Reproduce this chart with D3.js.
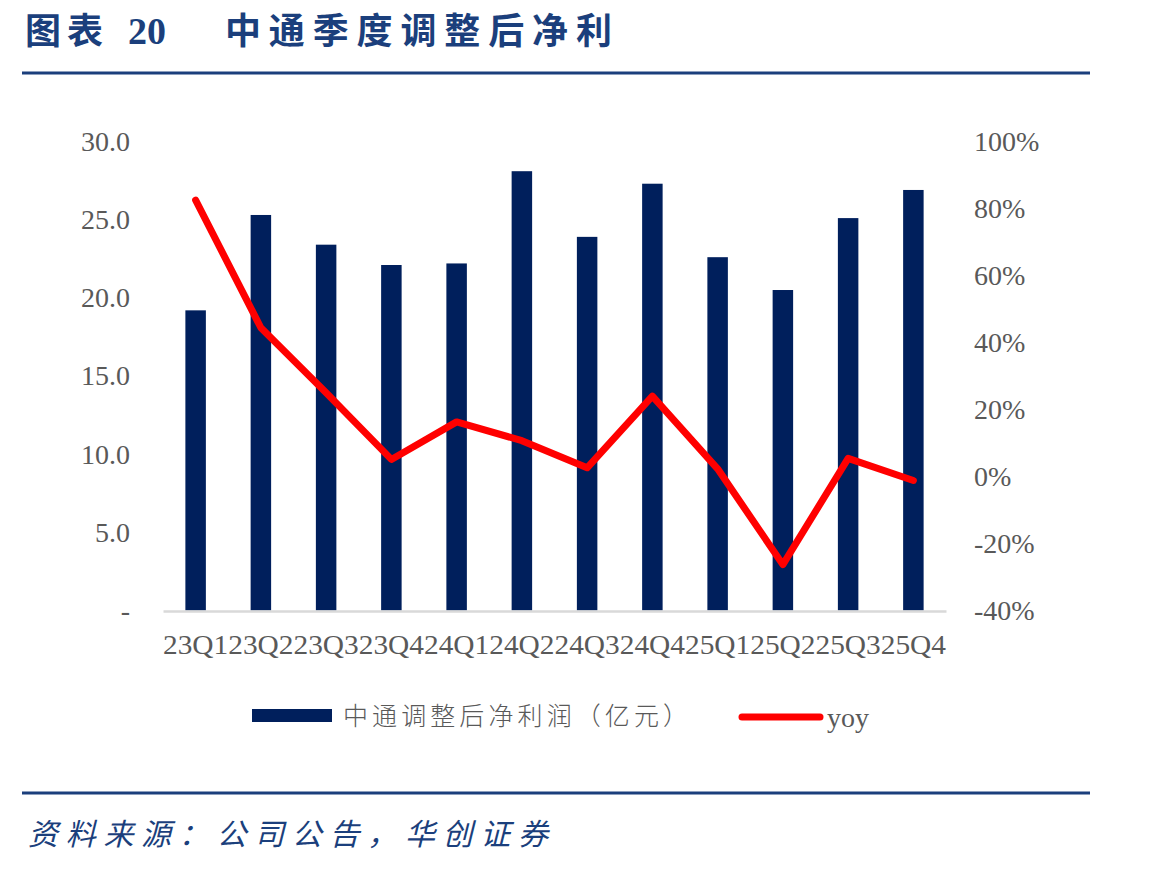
<!DOCTYPE html>
<html>
<head>
<meta charset="utf-8">
<script src="https://cdn.jsdelivr.net/npm/d3@7/dist/d3.min.js"></script>
<style>
  body { margin: 0; background: #fff; }
  .tick-label { font-family: "Liberation Serif", "Times New Roman", serif; font-size: 28px; fill: #595959; }
</style>
</head>
<body>
<div id="chart"></div>
<script>
var quarters = ["23Q1","23Q2","23Q3","23Q4","24Q1","24Q2","24Q3","24Q4","25Q1","25Q2","25Q3","25Q4"];
var profit = [19.2, 25.3, 23.4, 22.1, 22.2, 28.1, 23.9, 27.3, 22.6, 20.5, 25.1, 26.9];
var yoy = [82.5, 44.4, 25.0, 5.1, 16.3, 10.7, 2.6, 24.0, 2.3, -26.3, 5.4, -1.2];
var leftTicks = [0, 5, 10, 15, 20, 25, 30];
var rightTicks = [-40, -20, 0, 20, 40, 60, 80, 100];

var W = 1149, H = 869;
var blue = "#1b3f7c";

var svg = d3.select("#chart").append("svg")
    .attr("width", W).attr("height", H);

// title
var title = svg.append("g").attr("fill", blue).attr("font-weight", "bold");
title.append("text").attr("x", 25).attr("y", 44)
    .attr("font-family", "Noto Sans CJK SC").attr("font-size", 36)
    .attr("textLength", 78).text("图表");
title.append("text").attr("x", 128).attr("y", 44)
    .attr("font-family", "Liberation Serif").attr("font-size", 38)
    .text("20");
title.append("text").attr("x", 225).attr("y", 44)
    .attr("font-family", "Noto Sans CJK SC").attr("font-size", 36)
    .attr("textLength", 387).text("中通季度调整后净利");

svg.append("line").attr("x1", 22).attr("x2", 1090).attr("y1", 73).attr("y2", 73)
    .attr("stroke", blue).attr("stroke-width", 3);
svg.append("line").attr("x1", 22).attr("x2", 1090).attr("y1", 793).attr("y2", 793)
    .attr("stroke", blue).attr("stroke-width", 3);

// scales
var x = d3.scaleBand().domain(quarters).range([163, 946])
    .paddingInner(0.686).paddingOuter(0.343);
var y = d3.scaleLinear().domain([0, 30]).range([610.5, 141.5]);
var y2 = d3.scaleLinear().domain([-40, 100]).range([610.5, 141.5]);

// left axis
var left = svg.append("g").attr("transform", "translate(130,0)")
    .call(d3.axisLeft(y).tickValues(leftTicks).tickSize(0).tickPadding(0)
        .tickFormat(function(d){ return d === 0 ? "-" : d3.format(".1f")(d); }));
left.select(".domain").remove();
left.selectAll("text").attr("class", "tick-label").attr("font-size", null).attr("font-family", null);

// right axis
var right = svg.append("g").attr("transform", "translate(974,0)")
    .call(d3.axisRight(y2).tickValues(rightTicks).tickSize(0).tickPadding(0)
        .tickFormat(function(d){ return d + "%"; }));
right.select(".domain").remove();
right.selectAll("text").attr("class", "tick-label").attr("font-size", null).attr("font-family", null);

// bars
svg.append("g").selectAll("rect").data(quarters).enter().append("rect")
    .attr("x", function(d){ return x(d); })
    .attr("y", function(d, i){ return y(profit[i]); })
    .attr("width", x.bandwidth())
    .attr("height", function(d, i){ return y(0) - y(profit[i]); })
    .attr("fill", "#001f5c");

// x axis
var bottom = svg.append("g").attr("transform", "translate(0,611)")
    .call(d3.axisBottom(x).tickSize(0).tickPadding(23));
bottom.select(".domain").attr("stroke", "#d9d9d9").attr("stroke-width", 2.5);
bottom.selectAll("text").attr("class", "tick-label").attr("font-size", null).attr("font-family", null)
    .attr("x", -x.step() / 2).attr("text-anchor", "start")
    .attr("textLength", x.step()).attr("lengthAdjust", "spacingAndGlyphs");

// yoy line
var line = d3.line()
    .x(function(d, i){ return x(quarters[i]) + x.bandwidth() / 2; })
    .y(function(d){ return y2(d); });
svg.append("path").datum(yoy).attr("d", line)
    .attr("fill", "none").attr("stroke", "#ff0000").attr("stroke-width", 7)
    .attr("stroke-linejoin", "round").attr("stroke-linecap", "round");

// legend
var lg = svg.append("g");
lg.append("rect").attr("x", 252).attr("y", 709).attr("width", 80).attr("height", 13).attr("fill", "#001f5c");
lg.append("text").attr("x", 343).attr("y", 725)
    .attr("font-family", "Noto Sans CJK SC").attr("font-size", 25).attr("font-weight", 300)
    .attr("fill", "#595959")
    .attr("textLength", 345).text("中通调整后净利润（亿元）");
lg.append("line").attr("x1", 742).attr("x2", 820).attr("y1", 717).attr("y2", 717)
    .attr("stroke", "#ff0000").attr("stroke-width", 7).attr("stroke-linecap", "round");
lg.append("text").attr("x", 827).attr("y", 727).attr("class", "tick-label").text("yoy");

// source
svg.append("text").attr("x", 28).attr("y", 845)
    .attr("font-family", "Noto Sans CJK SC").attr("font-size", 30).attr("font-style", "italic")
    .attr("fill", blue).attr("textLength", 520).text("资料来源：公司公告，华创证券");
</script>
</body>
</html>
